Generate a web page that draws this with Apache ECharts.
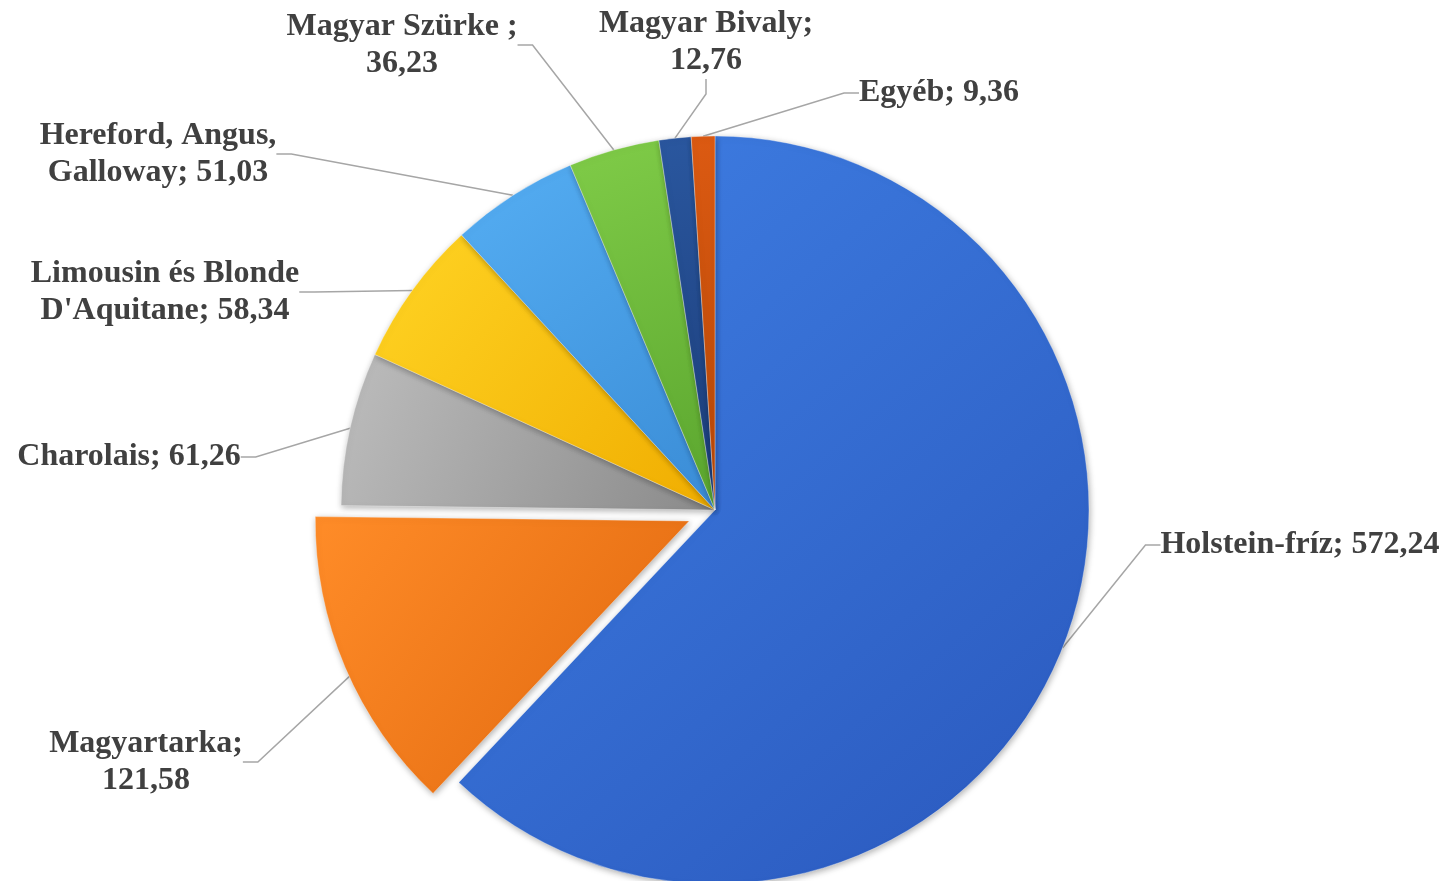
<!DOCTYPE html>
<html>
<head>
<meta charset="utf-8">
<script src="https://cdn.jsdelivr.net/npm/echarts@6/dist/echarts.min.js"></script>
<style>
html,body{margin:0;padding:0;background:#fff;}
#chart{width:1447px;height:881px;}
</style>
</head>
<body>
<div id="chart"></div>
<script>
// ---- data ----
const categories = ['Holstein-fríz', 'Magyartarka', 'Charolais', "Limousin és Blonde D'Aquitane",
  'Hereford, Angus, Galloway', 'Magyar Szürke ', 'Magyar Bivaly', 'Egyéb'];
const labelNames = ['Holstein-fríz', 'Magyartarka', 'Charolais', "Limousin és Blonde\nD'Aquitane",
  'Hereford, Angus,\nGalloway', 'Magyar Szürke ', 'Magyar Bivaly', 'Egyéb'];
const breakBeforeValue = [false, true, false, false, false, true, true, false];
const values = [572.24, 121.58, 61.26, 58.34, 51.03, 36.23, 12.76, 9.36];
const exploded = [false, true, false, false, false, false, false, false];

// ---- styling / layout ----
const colorStops = [
  ['#3f7fe4', '#2a58bd'],
  ['#ff8c28', '#e0670e'],
  ['#bdbdbd', '#8a8a8a'],
  ['#ffd424', '#f0ad00'],
  ['#55aef3', '#3a8cd6'],
  ['#80cc48', '#5aa52e'],
  ['#2a579f', '#1b3c78'],
  ['#dc5a12', '#b54707']
];
const labelPos = [
  [1300, 545], [146, 762], [129, 457], [165, 292],
  [158, 154], [402, 45], [706, 42], [939, 93]
];
const CENTER = [715, 510];
const RADIUS = 374;
const EXPLODE = 28;

function fmt(v) { return v.toFixed(2).replace('.', ','); }

// explosion offset computed from the slice's mid angle (start at 12 o'clock, clockwise)
const total = values.reduce((a, b) => a + b, 0);
let explodeCenter = CENTER.slice();
{
  let acc = 0;
  values.forEach((v, i) => {
    if (exploded[i]) {
      const mid = (acc + v / 2) / total * 2 * Math.PI; // clockwise from top
      explodeCenter = [CENTER[0] + Math.sin(mid) * EXPLODE, CENTER[1] - Math.cos(mid) * EXPLODE];
    }
    acc += v;
  });
}

const grad = i => ({
  type: 'linear', x: 0, y: 0, x2: 1, y2: 1,
  colorStops: [{ offset: 0, color: colorStops[i][0] }, { offset: 1, color: colorStops[i][1] }]
});
const hidden = { color: 'rgba(0,0,0,0)', shadowColor: 'rgba(0,0,0,0)', shadowBlur: 0, borderWidth: 0 };

const baseItemStyle = {
  borderColor: 'rgba(255,255,255,0.35)',
  borderWidth: 1,
  shadowBlur: 6,
  shadowColor: 'rgba(0,0,0,0.3)',
  shadowOffsetX: 1,
  shadowOffsetY: 2
};

const mainData = categories.map((c, i) => ({
  name: c,
  value: values[i],
  itemStyle: exploded[i] ? hidden : { color: grad(i) }
}));
const explodedData = categories.map((c, i) => ({
  name: c,
  value: values[i],
  itemStyle: exploded[i] ? { color: grad(i) } : hidden
}));

const chart = echarts.init(document.getElementById('chart'), null, { renderer: 'canvas' });
chart.setOption({
  backgroundColor: '#ffffff',
  animation: false,
  series: [{
    type: 'pie',
    z: 2,
    center: CENTER,
    radius: RADIUS,
    startAngle: 90,
    clockwise: true,
    avoidLabelOverlap: false,
    itemStyle: baseItemStyle,
    emphasis: { disabled: true },
    label: {
      show: true,
      position: 'outside',
      fontFamily: 'Liberation Serif',
      fontWeight: 'bold',
      fontSize: 32,
      lineHeight: 37,
      color: '#404040',
      align: 'center',
      formatter: p => labelNames[p.dataIndex] + ';' + (breakBeforeValue[p.dataIndex] ? '\n' : ' ') + fmt(p.value)
    },
    labelLine: {
      show: true,
      length: 20,
      length2: 15,
      lineStyle: { color: '#a6a6a6', width: 1.5 }
    },
    labelLayout: function (params) {
      const pos = labelPos[params.dataIndex];
      return { x: pos[0], y: pos[1], align: 'center', verticalAlign: 'middle' };
    },
    data: mainData
  }, {
    type: 'pie',
    z: 3,
    silent: true,
    center: explodeCenter,
    radius: RADIUS,
    startAngle: 90,
    clockwise: true,
    itemStyle: baseItemStyle,
    emphasis: { disabled: true },
    label: { show: false },
    labelLine: { show: false },
    data: explodedData
  }]
});
</script>
</body>
</html>
